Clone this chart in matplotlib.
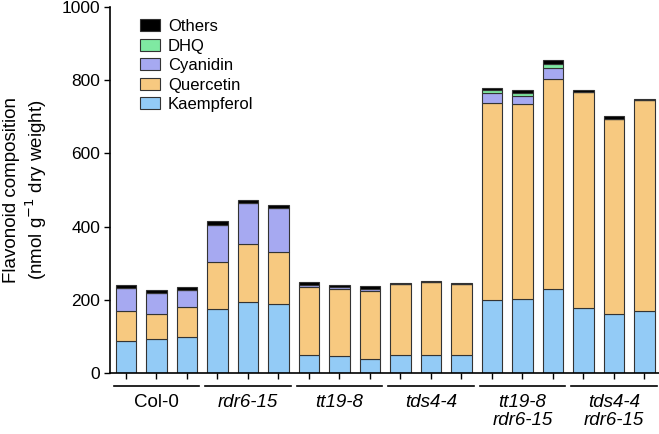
import matplotlib
matplotlib.use("Agg")
import matplotlib.pyplot as plt
import matplotlib.transforms as mtransforms
from matplotlib.patches import Patch

plt.rcParams["font.family"] = ["Liberation Sans", "DejaVu Sans"]

# Genotype groups, three replicates each
groups = ["Col-0", "rdr6-15", "tt19-8", "tds4-4", "tt19-8\nrdr6-15", "tds4-4\nrdr6-15"]
italic = [False, True, True, True, True, True]

# Flavonoid amounts per bar (nmol g-1 dry weight)
kaempferol = [89, 93, 98, 175, 194, 188, 50, 47, 38, 49, 49, 51, 199, 202, 230, 178, 163, 171]
quercetin = [81, 70, 82, 128, 159, 142, 185, 182, 186, 194, 199, 192, 540, 534, 574, 590, 532, 574]
cyanidin = [62, 57, 47, 102, 111, 120, 6, 6, 5, 0, 0, 0, 25, 21, 30, 0, 0, 0]
dhq = [0, 0, 0, 0, 0, 0, 0, 0, 0, 0, 0, 0, 9, 8, 11, 0, 0, 0]
others = [10, 7, 8, 11, 10, 9, 9, 7, 8, 2, 4, 3, 7, 9, 9, 5, 6, 5]

series = [
    ("Kaempferol", kaempferol, "#93cbf6"),
    ("Quercetin", quercetin, "#f7c980"),
    ("Cyanidin", cyanidin, "#a6a9f1"),
    ("DHQ", dhq, "#7fe9a2"),
    ("Others", others, "#000000"),
]

fig = plt.figure(figsize=(6.59, 4.34), dpi=100)
ax = fig.add_axes([0.167, 0.14, 0.833, 0.844])

x = list(range(len(kaempferol)))
bottom = [0] * len(x)
for name, vals, color in series:
    ax.bar(x, vals, bottom=bottom, width=0.675, color=color,
           edgecolor="#333333", linewidth=0.8)
    bottom = [b + v for b, v in zip(bottom, vals)]

ax.set_xlim(-0.52, 17.48)
ax.set_ylim(0, 1000)
ax.set_yticks([0, 200, 400, 600, 800, 1000])
ax.set_xticks(x)
ax.set_xticklabels([])
ax.tick_params(axis="both", labelsize=12.5, width=1, length=4, color="black", pad=3)
for side in ["top", "right"]:
    ax.spines[side].set_visible(False)
for side in ["left", "bottom"]:
    ax.spines[side].set_linewidth(1.2)

ax.set_ylabel("Flavonoid composition\n(nmol g$^{-1}$ dry weight)", fontsize=13.5,
              linespacing=1.15)
ax.yaxis.set_label_coords(-0.112, 0.5)

# group lines and labels under the axis
trans = mtransforms.blended_transform_factory(ax.transData, ax.transAxes)
for i, (g, it) in enumerate(zip(groups, italic)):
    start = i * 3 - 0.4
    end = i * 3 + 2.4
    ax.plot([start, end], [-0.035, -0.035], transform=trans, color="black",
            linewidth=1.2, clip_on=False)
    ax.text(i * 3 + 1, -0.058, g, transform=trans, ha="center", va="top",
            fontsize=13.5, style="italic" if it else "normal", linespacing=1.05)

handles = [Patch(facecolor=c, edgecolor="#333333", linewidth=0.8, label=n)
           for n, v, c in reversed(series)]
ax.legend(handles=handles, loc="upper left", bbox_to_anchor=(0.043, 0.985),
          frameon=False, fontsize=12, handlelength=1.2, handleheight=0.72,
          handletextpad=0.45, labelspacing=0.27, borderaxespad=0)

fig.savefig("out.png", dpi=100)
